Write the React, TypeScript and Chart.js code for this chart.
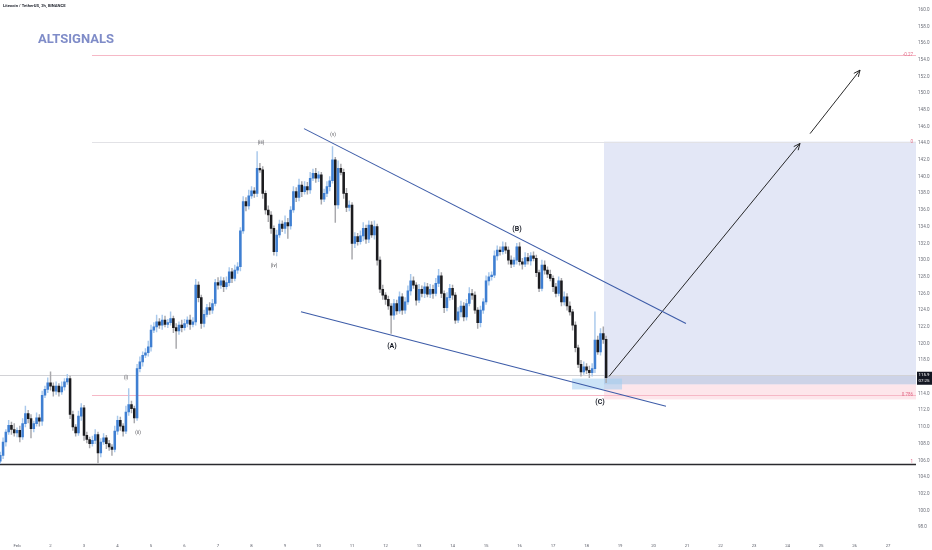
import React, { useEffect, useRef } from "react";
import { Chart, registerables } from "chart.js";

Chart.register(...registerables);

// ---- candle data (2h candles, hours counted from Feb 1 00:00) ----
const FIRST_CANDLE_HOUR = -12;
const CANDLE_HOURS = 2;
const FIRST_OPEN = 105.9;

const closes = [
  106.6, 108.2, 109.4, 110.2, 109.7, 109.3, 109.6, 108.8, 110.4, 111.6, 111.0, 109.8,
  110.4, 111.1, 110.7, 113.8, 114.5, 115.3, 114.9, 114.3, 114.9, 114.2, 114.8, 115.4,
  115.8, 111.5, 110.0, 109.3, 111.3, 112.3, 109.0, 108.5, 108.0, 108.4, 109.1, 106.9,
  108.2, 108.7, 108.0, 107.6, 107.3, 109.5, 110.8, 110.1, 109.5, 111.8, 112.7, 112.2,
  111.1, 117.0, 117.8, 118.6, 118.9, 119.6, 121.6, 122.0, 122.6, 122.2, 122.8, 122.3,
  122.5, 123.0, 121.9, 121.5, 122.2, 121.9, 122.4, 122.8, 122.3, 122.6, 127.0, 125.5,
  122.4, 123.5, 124.3, 124.0, 124.8, 127.3, 127.0, 127.5, 126.8, 127.3, 128.6, 127.8,
  128.8, 129.2, 133.5, 137.0, 136.5, 137.7, 138.3, 138.0, 141.0, 140.8, 138.0, 136.0,
  135.4, 133.8, 131.0, 133.0, 134.3, 133.8, 134.5, 134.1, 136.0, 138.2, 137.5, 139.0,
  138.2, 138.8, 138.4, 139.8, 140.4, 139.8, 140.2, 137.3, 138.0, 138.8, 139.5, 142.0,
  136.6, 141.0, 140.5, 138.0, 136.3, 136.6, 132.0, 132.8, 132.2, 132.9, 133.8, 132.5,
  134.2, 133.0, 134.0, 130.0, 126.5, 125.8, 125.3, 124.5, 123.4, 124.8, 123.9, 125.6,
  124.0, 125.0, 126.3, 127.5, 127.0, 125.2, 126.5, 126.0, 126.8, 125.9, 126.5, 126.0,
  127.2, 128.1, 126.0, 124.3, 125.5, 126.6, 125.8, 122.8, 123.8, 124.5, 123.2, 124.8,
  126.0, 125.8, 124.0, 122.5, 124.0, 125.0, 127.5, 128.0, 128.2, 130.5, 131.2, 131.0,
  131.6, 131.2, 130.0, 129.5, 130.0, 131.6, 129.8, 129.5, 130.3, 129.9, 130.5, 130.2,
  128.5, 126.6, 129.4, 128.8, 128.3, 127.8, 126.8, 126.0, 127.5, 125.0, 125.6, 124.5,
  123.8, 122.2, 119.5, 117.5, 116.6, 117.2, 116.8, 116.5, 117.0, 120.4, 119.0, 121.2,
  120.5, 115.9,
];

// wick length above the body top / below the body bottom of each candle
const upperWicks = [
  0.4, 0.5, 0.3, 0.6, 0.4, 0.7, 0.3, 0.5, 0.6, 0.9, 0.4, 0.5,
  0.3, 0.6, 0.4, 0.5, 0.4, 0.6, 1.3, 0.4, 0.5, 0.3, 0.6, 0.4,
  0.5, 0.3, 0.4, 0.3, 0.6, 0.5, 0.3, 0.4, 0.3, 0.5, 0.6, 0.3,
  0.4, 0.5, 0.3, 0.4, 0.3, 0.6, 0.5, 0.4, 0.3, 0.7, 1.9, 0.4,
  0.3, 0.5, 0.6, 0.4, 0.5, 0.7, 0.6, 0.5, 0.8, 0.4, 0.6, 0.5,
  0.4, 0.8, 0.3, 0.5, 0.4, 0.6, 0.5, 0.4, 0.6, 0.5, 0.7, 0.4,
  0.3, 0.5, 0.4, 0.6, 0.5, 0.4, 0.6, 0.5, 0.4, 0.7, 0.5, 0.4,
  0.6, 0.5, 0.4, 0.6, 0.5, 0.7, 0.5, 0.4, 2.0, 0.6, 0.4, 0.3,
  0.5, 0.4, 0.3, 0.6, 0.5, 0.4, 0.8, 0.5, 0.4, 0.6, 0.5, 0.7,
  0.4, 0.6, 0.5, 0.7, 0.5, 0.6, 0.4, 0.3, 0.5, 0.6, 0.5, 1.6,
  0.3, 0.9, 0.5, 0.4, 0.6, 0.5, 0.3, 0.5, 0.4, 0.6, 0.7, 0.4,
  0.5, 0.4, 0.7, 0.3, 0.4, 0.5, 0.3, 0.4, 0.3, 0.5, 0.4, 0.6,
  0.4, 0.5, 0.6, 0.8, 0.5, 0.3, 0.6, 0.4, 0.5, 0.4, 0.6, 0.5,
  0.6, 0.8, 0.4, 0.3, 0.6, 0.5, 0.4, 0.3, 0.5, 0.6, 0.4, 0.5,
  0.7, 0.5, 0.4, 0.3, 0.5, 0.4, 0.6, 0.5, 0.4, 0.6, 0.5, 0.4,
  0.6, 0.5, 0.4, 0.5, 0.3, 0.4, 0.5, 0.4, 0.6, 0.5, 0.4, 0.5,
  0.4, 0.3, 0.6, 0.5, 0.4, 0.5, 0.3, 0.4, 0.5, 0.3, 0.6, 0.4,
  0.5, 0.3, 0.4, 0.3, 0.5, 0.6, 0.4, 0.5, 0.6, 3.4, 0.5, 0.6,
  0.8, 0.4,
];

const lowerWicks = [
  0.3, 0.4, 0.5, 0.3, 0.6, 0.4, 0.5, 0.6, 0.3, 0.4, 0.5, 1.1,
  0.4, 0.3, 0.6, 0.5, 0.3, 0.4, 0.5, 0.6, 0.4, 0.5, 0.3, 0.4,
  0.3, 0.5, 0.4, 0.4, 0.3, 0.5, 0.6, 0.4, 0.5, 0.3, 0.4, 1.2,
  0.5, 0.3, 0.6, 0.4, 0.7, 0.3, 0.4, 0.5, 0.6, 0.3, 0.4, 0.5,
  0.6, 0.3, 0.4, 0.5, 0.3, 0.4, 0.5, 0.3, 0.6, 0.4, 0.5, 0.3,
  0.4, 0.3, 0.6, 2.1, 0.4, 0.5, 0.3, 0.4, 0.6, 0.3, 0.4, 0.5,
  0.6, 0.4, 0.3, 0.5, 0.4, 0.3, 0.5, 0.4, 0.6, 0.3, 0.4, 0.5,
  0.3, 0.4, 0.5, 0.3, 0.6, 0.4, 0.3, 0.5, 0.4, 0.3, 0.6, 0.5,
  0.8, 0.6, 0.4, 0.5, 0.3, 0.4, 0.6, 1.5, 0.4, 0.3, 0.5, 0.4,
  0.6, 0.3, 0.5, 0.4, 0.3, 0.5, 0.4, 0.6, 0.3, 0.4, 0.5, 0.3,
  2.1, 0.4, 0.3, 0.6, 0.5, 0.4, 1.9, 0.5, 0.4, 0.3, 0.6, 0.5,
  0.4, 0.3, 0.5, 0.6, 0.4, 0.5, 0.6, 0.4, 2.2, 0.5, 0.4, 0.3,
  0.5, 0.4, 0.3, 0.5, 0.4, 0.6, 0.3, 0.4, 0.5, 0.3, 0.4, 0.6,
  0.3, 0.4, 0.5, 0.6, 0.4, 0.3, 0.5, 0.4, 0.3, 0.6, 0.5, 0.4,
  0.3, 0.5, 0.4, 0.7, 0.5, 0.4, 0.3, 0.5, 0.4, 0.3, 0.5, 0.4,
  0.3, 0.4, 0.5, 0.4, 0.3, 0.5, 0.4, 0.6, 0.3, 0.4, 0.5, 0.3,
  0.5, 0.4, 0.3, 0.5, 0.4, 0.3, 0.6, 0.4, 0.3, 0.5, 0.4, 0.5,
  0.4, 0.6, 0.5, 0.4, 0.5, 0.3, 0.4, 0.6, 0.4, 0.5, 0.3, 0.4,
  0.5, 0.6,
];

// ---- axes ----
const dayLabels = [
  "Feb", "2", "3", "4", "5", "6", "7", "8", "9", "10", "11", "12", "13", "14",
  "15", "16", "17", "18", "19", "20", "21", "22", "23", "24", "25", "26", "27",
];
const dayHours = [
  0, 24, 48, 72, 96, 120, 144, 168, 192, 216, 240, 264, 288, 312,
  336, 360, 384, 408, 432, 456, 480, 504, 528, 552, 576, 600, 624,
];
const priceTicks = [
  98, 100, 102, 104, 106, 108, 110, 112, 114, 116, 118, 120, 122, 124, 126, 128,
  130, 132, 134, 136, 138, 140, 142, 144, 146, 148, 150, 152, 154, 156, 158, 160,
];
const HOUR_MIN = -12.2;
const HOUR_MAX = 644;
const PRICE_MIN = 96.94;
const PRICE_MAX = 160.59;

// ---- drawings (hour, price) ----
const upperChannel = [{ x: 205.6, y: 145.75 }, { x: 479.2, y: 122.39 }];
const lowerChannel = [{ x: 203.4, y: 123.81 }, { x: 464.9, y: 112.49 }];
const arrowOne = [{ x: 424.1, y: 116.06 }, { x: 560.9, y: 143.97 }];
const arrowTwo = [{ x: 568.1, y: 145.15 }, { x: 603.9, y: 152.76 }];

const fibStartHour = 53.7;
const fibHigh = 144.2;
const fibLow = 105.6;
const fibRatios = [-0.27, 0, 0.786, 1];
const fibTexts = ["-0.27", "0", "0.786", "1"];

const supportLevel = 105.6;
const waveOneLevel = 116.2;

const targetZone = { from: 420.5, to: 644, top: 144.2, bottom: 115.1 };
const entryBand = { from: 420.5, to: 644, top: 116.2, bottom: 115.1 };
const stopZone = { from: 420.5, to: 644, top: 115.1, bottom: 113.3 };
const buyZone = { from: 397.6, to: 433.4, top: 115.8, bottom: 114.5 };

const waveLabels = [
  { text: "(i)", hour: 78.1, price: 115.94, major: false },
  { text: "(ii)", hour: 86.7, price: 109.29, major: false },
  { text: "(iii)", hour: 174.8, price: 144.09, major: false },
  { text: "(iv)", hour: 184.1, price: 129.36, major: false },
  { text: "(v)", hour: 226.4, price: 145.04, major: false },
  { text: "(A)", hour: 268.6, price: 119.62, major: true },
  { text: "(B)", hour: 358.2, price: 133.75, major: true },
  { text: "(C)", hour: 417.6, price: 112.97, major: true },
];

const TITLE = "Litecoin / TetherUS, 2h, BINANCE";
const WATERMARK = "ALTSIGNALS";
const COUNTDOWN = "07:25";

const FONT = 'Roboto, "Noto Sans", "DejaVu Sans", sans-serif';

export default function App() {
  const ref = useRef<HTMLCanvasElement | null>(null);

  useEffect(() => {
    if (!ref.current) return;
    document.body.style.margin = "0";

    const times = closes.map((_, i) => FIRST_CANDLE_HOUR + CANDLE_HOURS * i);
    const opens = closes.map((_, i) => (i === 0 ? FIRST_OPEN : closes[i - 1]));
    const highs = closes.map((c, i) => Math.max(c, opens[i]) + upperWicks[i]);
    const lows = closes.map((c, i) => Math.min(c, opens[i]) - lowerWicks[i]);
    const up = closes.map((c, i) => c >= opens[i]);

    const UP_BODY = "#3f7fd2";
    const UP_WICK = "#a9c9ec";
    const DOWN_BODY = "#1b1b1e";
    const DOWN_WICK = "#a8a8ac";

    const overlay = {
      id: "overlay",
      beforeDatasetsDraw(chart: any) {
        const { ctx, chartArea: a, scales } = chart;
        const px = (h: number) => scales.x.getPixelForValue(h);
        const py = (p: number) => scales.y.getPixelForValue(p);
        ctx.save();
        ctx.beginPath();
        ctx.rect(a.left, a.top, a.right - a.left, a.bottom - a.top);
        ctx.clip();
        const zone = (z: any, color: string) => {
          ctx.fillStyle = color;
          ctx.fillRect(px(z.from), py(z.top), px(z.to) - px(z.from), py(z.bottom) - py(z.top));
        };
        zone(targetZone, "rgba(196, 204, 236, 0.48)");
        zone(entryBand, "rgba(150, 160, 195, 0.28)");
        zone(stopZone, "rgba(250, 200, 210, 0.45)");
        zone(buyZone, "rgba(160, 205, 240, 0.55)");

        const hline = (price: number, from: number, color: string, w: number) => {
          const y = Math.round(py(price)) + 0.5;
          ctx.strokeStyle = color;
          ctx.lineWidth = w;
          ctx.beginPath();
          ctx.moveTo(px(from), y);
          ctx.lineTo(a.right, y);
          ctx.stroke();
        };
        fibRatios.forEach((r) => {
          const price = fibHigh - r * (fibHigh - fibLow);
          const color = r === 0 ? "#e2e2e6" : "#f6b8c6";
          hline(price, fibStartHour, color, 1);
        });
        hline(waveOneLevel, HOUR_MIN, "#d2d2d6", 1);
        hline(supportLevel, HOUR_MIN, "#2a2a2e", 1.3);
        ctx.restore();
      },
      afterDatasetsDraw(chart: any) {
        const { ctx, chartArea: a, scales } = chart;
        const px = (h: number) => scales.x.getPixelForValue(h);
        const py = (p: number) => scales.y.getPixelForValue(p);
        ctx.save();
        // arrow heads
        [3, 4].forEach((idx) => {
          const pts = chart.getDatasetMeta(idx).data;
          const p1 = pts[0];
          const p2 = pts[pts.length - 1];
          const ang = Math.atan2(p2.y - p1.y, p2.x - p1.x);
          const len = 7;
          const sp = 0.42;
          ctx.strokeStyle = "#111";
          ctx.lineWidth = 0.9;
          ctx.beginPath();
          ctx.moveTo(p2.x - len * Math.cos(ang - sp), p2.y - len * Math.sin(ang - sp));
          ctx.lineTo(p2.x, p2.y);
          ctx.lineTo(p2.x - len * Math.cos(ang + sp), p2.y - len * Math.sin(ang + sp));
          ctx.stroke();
        });
        // wave labels
        ctx.textAlign = "center";
        ctx.textBaseline = "middle";
        waveLabels.forEach((l) => {
          ctx.font = l.major ? `bold 7px ${FONT}` : `4.6px ${FONT}`;
          ctx.fillStyle = l.major ? "#131722" : "#4a4a50";
          ctx.fillText(l.text, px(l.hour), py(l.price));
        });
        // fib labels
        ctx.textAlign = "right";
        ctx.font = `4.5px ${FONT}`;
        ctx.fillStyle = "#e26b88";
        fibRatios.forEach((r, i) => {
          const price = fibHigh - r * (fibHigh - fibLow);
          ctx.fillText(fibTexts[i], a.right - 3, py(price) - (r === 1 ? 2 : 0));
        });
        ctx.restore();
      },
      afterDraw(chart: any) {
        const { ctx, chartArea: a, scales } = chart;
        const py = (p: number) => scales.y.getPixelForValue(p);
        ctx.save();
        // last price box
        const last = closes[closes.length - 1];
        const yc = py(last);
        ctx.fillStyle = "#131722";
        ctx.fillRect(a.right + 1, yc - 6, 15, 13);
        ctx.fillStyle = "#ffffff";
        ctx.font = `4.4px ${FONT}`;
        ctx.textAlign = "left";
        ctx.textBaseline = "middle";
        ctx.fillText(last.toFixed(1), a.right + 2.5, yc - 2.5);
        ctx.fillText(COUNTDOWN, a.right + 2.5, yc + 3);
        // title & watermark
        ctx.fillStyle = "#131722";
        ctx.font = `600 4.2px ${FONT}`;
        ctx.fillText(TITLE, 3, 6);
        ctx.fillStyle = "#7f8cc8";
        ctx.font = `bold 13px ${FONT}`;
        ctx.textBaseline = "alphabetic";
        ctx.fillText(WATERMARK, 38, 43);
        ctx.restore();
      },
    };

    const chart = new Chart(ref.current, {
      type: "bar",
      data: {
        datasets: [
          {
            type: "bar",
            data: times.map((t, i) => ({ x: t, y: [opens[i], closes[i]] })) as any,
            backgroundColor: up.map((u) => (u ? UP_BODY : DOWN_BODY)),
            barThickness: 1.9,
            minBarLength: 0.8,
            borderWidth: 0,
            grouped: false,
            order: 0,
          } as any,
          {
            type: "bar",
            data: times.map((t, i) => ({ x: t, y: [lows[i], highs[i]] })) as any,
            backgroundColor: up.map((u) => (u ? UP_WICK : DOWN_WICK)),
            barThickness: 0.8,
            borderWidth: 0,
            grouped: false,
            order: 1,
          } as any,
          {
            type: "line",
            data: upperChannel as any,
            borderColor: "#3d5ca8",
            borderWidth: 1.1,
            pointRadius: 0,
            order: -1,
          } as any,
          {
            type: "line",
            data: arrowOne as any,
            borderColor: "#111111",
            borderWidth: 0.9,
            pointRadius: 0,
            order: -1,
          } as any,
          {
            type: "line",
            data: arrowTwo as any,
            borderColor: "#111111",
            borderWidth: 0.9,
            pointRadius: 0,
            order: -1,
          } as any,
          {
            type: "line",
            data: lowerChannel as any,
            borderColor: "#3d5ca8",
            borderWidth: 1.1,
            pointRadius: 0,
            order: -1,
          } as any,
        ],
      },
      options: {
        animation: false,
        responsive: false,
        devicePixelRatio: 1,
        layout: { padding: 0 },
        plugins: { legend: { display: false }, tooltip: { enabled: false } },
        events: [],
        scales: {
          x: {
            type: "linear",
            min: HOUR_MIN,
            max: HOUR_MAX,
            offset: false,
            grid: { display: false, drawTicks: false },
            border: { display: false },
            ticks: {
              autoSkip: false,
              maxRotation: 0,
              padding: 7,
              color: "#5d606b",
              font: { size: 4.3, family: FONT },
              callback: (_v: any, i: number) => dayLabels[i],
            },
            afterBuildTicks: (s: any) => {
              s.ticks = dayHours.map((h) => ({ value: h }));
            },
            afterFit: (s: any) => {
              s.height = 14;
            },
          },
          y: {
            type: "linear",
            position: "right",
            min: PRICE_MIN,
            max: PRICE_MAX,
            grid: { display: false, drawTicks: false },
            border: { display: false },
            ticks: {
              autoSkip: false,
              padding: 2,
              color: "#6b6e78",
              font: { size: 4.6, family: FONT },
              callback: (v: any) => Number(v).toFixed(1),
            },
            afterBuildTicks: (s: any) => {
              s.ticks = priceTicks.map((p) => ({ value: p }));
            },
            afterFit: (s: any) => {
              s.width = 16;
            },
          },
        },
      } as any,
      plugins: [overlay],
    });
    return () => chart.destroy();
  }, []);

  return (
    <div style={{ position: "absolute", left: 0, top: 0, width: 932, height: 550, background: "#fff" }}>
      <canvas ref={ref} width={932} height={550} style={{ display: "block" }} />
    </div>
  );
}
